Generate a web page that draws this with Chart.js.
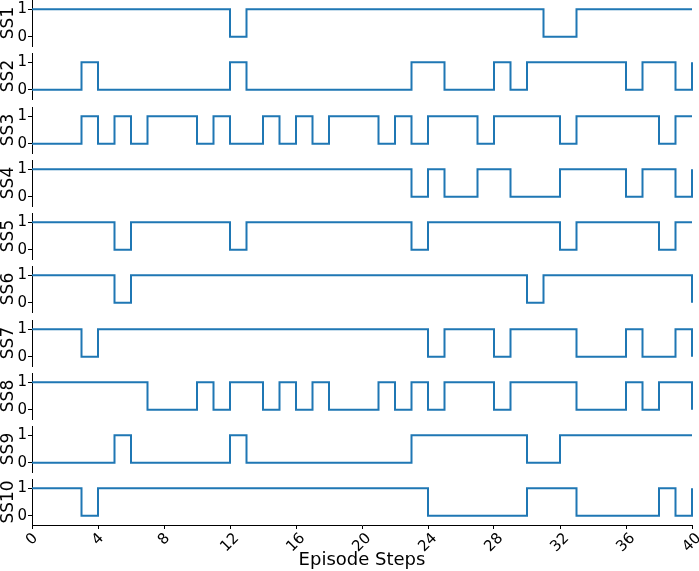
<!DOCTYPE html>
<html>
<head>
<meta charset="utf-8">
<script src="https://cdn.jsdelivr.net/npm/chart.js@4"></script>
<style>
  body { margin: 0; background: #fff; }
  #wrap { position: relative; width: 699px; height: 571px; overflow: hidden; }
  #wrap canvas { position: absolute; left: 0; }
</style>
</head>
<body>
<div id="wrap"></div>
<script>
// Episode steps (x values)
const steps = [0,1,2,3,4,5,6,7,8,9,10,11,12,13,14,15,16,17,18,19,20,21,22,23,24,25,26,27,28,29,30,31,32,33,34,35,36,37,38,39,40];

// Subsystem names
const seriesNames = ['SS1', 'SS2', 'SS3', 'SS4', 'SS5', 'SS6', 'SS7', 'SS8', 'SS9', 'SS10'];

// On/off state per step, value holds from step i to step i+1
const ss1  = [1,1,1,1,1,1,1,1,1,1,1,1,0,1,1,1,1,1,1,1,1,1,1,1,1,1,1,1,1,1,1,0,0,1,1,1,1,1,1,1,1];
const ss2  = [0,0,0,1,0,0,0,0,0,0,0,0,1,0,0,0,0,0,0,0,0,0,0,1,1,0,0,0,1,0,1,1,1,1,1,1,0,1,1,0,1];
const ss3  = [0,0,0,1,0,1,0,1,1,1,0,1,0,0,1,0,1,0,1,1,1,0,1,0,1,1,1,0,1,1,1,1,0,1,1,1,1,1,0,1,1];
const ss4  = [1,1,1,1,1,1,1,1,1,1,1,1,1,1,1,1,1,1,1,1,1,1,1,0,1,0,0,1,1,0,0,0,1,1,1,1,0,1,1,0,1];
const ss5  = [1,1,1,1,1,0,1,1,1,1,1,1,0,1,1,1,1,1,1,1,1,1,1,0,1,1,1,1,1,1,1,1,0,1,1,1,1,1,0,1,1];
const ss6  = [1,1,1,1,1,0,1,1,1,1,1,1,1,1,1,1,1,1,1,1,1,1,1,1,1,1,1,1,1,1,0,1,1,1,1,1,1,1,1,1,0];
const ss7  = [1,1,1,0,1,1,1,1,1,1,1,1,1,1,1,1,1,1,1,1,1,1,1,1,0,1,1,1,0,1,1,1,1,0,0,0,1,0,0,1,0];
const ss8  = [1,1,1,1,1,1,1,0,0,0,1,0,1,1,0,1,0,1,0,0,0,1,0,1,0,1,1,1,0,1,1,1,1,0,0,0,1,0,1,1,0];
const ss9  = [0,0,0,0,0,1,0,0,0,0,0,0,1,0,0,0,0,0,0,0,0,0,0,1,1,1,1,1,1,1,0,0,1,1,1,1,1,1,1,1,1];
const ss10 = [1,1,1,0,1,1,1,1,1,1,1,1,1,1,1,1,1,1,1,1,1,1,1,1,0,0,0,0,0,0,1,1,1,0,0,0,0,0,1,0,1];

const allSeries = [ss1, ss2, ss3, ss4, ss5, ss6, ss7, ss8, ss9, ss10];

// Axis ticks
const yTicks = [0, 1];
const xTicks = [0, 4, 8, 12, 16, 20, 24, 28, 32, 36, 40];
const xTickLabels = ['0', '4', '8', '12', '16', '20', '24', '28', '32', '36', '40'];
const xTitle = 'Episode Steps';

Chart.defaults.font.family = '"DejaVu Sans", sans-serif';
Chart.defaults.color = '#000';

const lineColor = '#1f77b4';
const rowStep = 53.25;
const areaHeight = 46;
const padTop = 12;
const wrap = document.getElementById('wrap');

// x tick labels rotated about their centre, like matplotlib
const rotatedTicks = {
    id: 'rotatedTicks',
    afterDraw(chart) {
        const sx = chart.scales.x;
        if (!sx || !sx.options.display) return;
        const ctx = chart.ctx;
        ctx.save();
        ctx.font = '15px "DejaVu Sans"';
        ctx.fillStyle = '#000';
        ctx.textAlign = 'center';
        ctx.textBaseline = 'middle';
        xTicks.forEach((v, i) => {
            const label = xTickLabels[i];
            const w = ctx.measureText(label).width;
            const half = (w + 11) / (2 * Math.SQRT2);
            const x = sx.getPixelForValue(v);
            const y = sx.top + 7 + half;
            ctx.save();
            ctx.translate(x, y);
            ctx.rotate(-Math.PI / 4);
            ctx.fillText(label, 0, 0);
            ctx.restore();
        });
        ctx.restore();
    }
};

allSeries.forEach((series, k) => {
    const isLast = k === allSeries.length - 1;
    const top = Math.round(rowStep * k) - padTop;
    const height = isLast ? 571 - top : areaHeight + 2 * padTop;

    const canvas = document.createElement('canvas');
    canvas.width = 699;
    canvas.height = height;
    canvas.style.top = top + 'px';
    wrap.appendChild(canvas);

    new Chart(canvas.getContext('2d'), {
        type: 'line',
        data: {
            datasets: [{
                data: steps.map((s, i) => ({ x: s, y: series[i] })),
                borderColor: lineColor,
                borderWidth: 2,
                pointRadius: 0,
                stepped: 'before',
                fill: false,
                clip: 4
            }]
        },
        options: {
            responsive: false,
            animation: false,
            layout: { padding: { top: padTop, bottom: isLast ? 0 : padTop, left: 0, right: 7 } },
            plugins: { legend: { display: false }, tooltip: { enabled: false } },
            scales: {
                x: {
                    type: 'linear',
                    min: 0,
                    max: 40,
                    display: isLast,
                    afterBuildTicks: (scale) => { scale.ticks = xTicks.map(v => ({ value: v })); },
                    afterFit: (scale) => { if (isLast) scale.height = height - padTop - areaHeight; },
                    ticks: { display: false },
                    grid: { display: true, drawOnChartArea: false, drawTicks: true, tickLength: 4, tickColor: '#000', tickWidth: 1 },
                    border: { display: true, color: '#000', width: 1 },
                    title: {
                        display: true,
                        text: xTitle,
                        font: { size: 18 },
                        padding: { top: 0, bottom: 0 }
                    }
                },
                y: {
                    type: 'linear',
                    min: -0.33,
                    max: 1.33,
                    afterBuildTicks: (scale) => { scale.ticks = yTicks.map(v => ({ value: v })); },
                    afterFit: (scale) => { scale.width = 32; },
                    ticks: { padding: 1, font: { size: 15 } },
                    grid: { display: true, drawOnChartArea: false, drawTicks: true, tickLength: 4, tickColor: '#000', tickWidth: 1 },
                    border: { display: true, color: '#000', width: 1 },
                    title: {
                        display: true,
                        text: seriesNames[k],
                        font: { size: 17, lineHeight: 1.05 },
                        padding: { top: 0, bottom: 0 }
                    }
                }
            }
        },
        plugins: [rotatedTicks]
    });
});
</script>
</body>
</html>
